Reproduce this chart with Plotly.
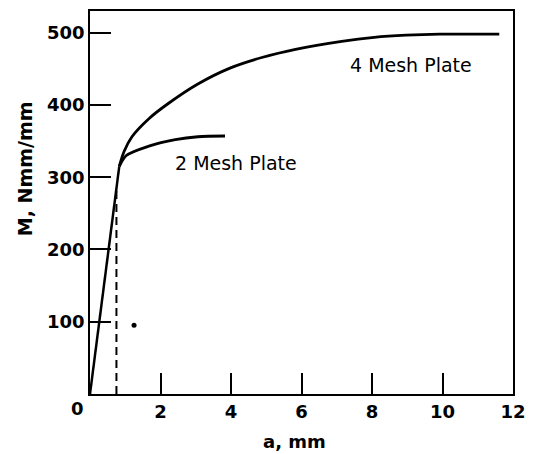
import plotly.graph_objects as go

# Data
lin_x = [0.0, 0.83]
lin_y = [0.0, 315.0]

dash_x = [0.75, 0.75]
dash_y = [0.0, 284.0]

mesh4_x = [0.83, 0.97, 1.19, 1.67, 2.22, 3.06, 3.97, 4.9, 5.83, 7.14, 8.06, 8.97, 9.92, 10.83, 11.61]
mesh4_y = [315, 336, 356, 381, 402, 429, 451, 466, 477, 488, 493.5, 496.5, 498, 498, 498]

mesh2_x = [0.83, 1.03, 1.67, 2.42, 3.06, 3.83]
mesh2_y = [315, 330, 343, 352, 356, 357]

dot_x = [1.25]
dot_y = [95]

x_ticks = [2, 4, 6, 8, 10, 12]
y_ticks = [100, 200, 300, 400, 500]

FONT = "DejaVu Sans, sans-serif"

fig = go.Figure()
fig.add_trace(go.Scatter(x=lin_x, y=lin_y, mode="lines", line=dict(color="black", width=2.5)))
fig.add_trace(go.Scatter(x=dash_x, y=dash_y, mode="lines", line=dict(color="black", width=2, dash="8px,5px")))
fig.add_trace(go.Scatter(x=mesh4_x, y=mesh4_y, mode="lines",
                         line=dict(color="black", width=2.8, shape="spline", smoothing=1.0)))
fig.add_trace(go.Scatter(x=mesh2_x, y=mesh2_y, mode="lines",
                         line=dict(color="black", width=2.8, shape="spline", smoothing=0.8)))
fig.add_trace(go.Scatter(x=dot_x, y=dot_y, mode="markers", marker=dict(color="black", size=5)))

fig.add_annotation(x=9.11, y=455, text="4 Mesh Plate", showarrow=False,
                   font=dict(family=FONT, size=19, color="black"))
fig.add_annotation(x=4.14, y=319, text="2 Mesh Plate", showarrow=False,
                   font=dict(family=FONT, size=19, color="black"))
fig.add_annotation(x=0, y=0, xref="x", yref="y", text="<b>0</b>", showarrow=False,
                   xshift=-13, yshift=-14, font=dict(family=FONT, size=18, color="black"))
# axis titles
fig.add_annotation(x=0, y=311, xref="x", yref="y", text="<b>M, Nmm/mm</b>", showarrow=False,
                   textangle=-90, xshift=-65, font=dict(family=FONT, size=19, color="black"))
fig.add_annotation(x=5.8, y=0, xref="x", yref="paper", yanchor="middle", text="<b>a, mm</b>",
                   showarrow=False, yshift=-47, font=dict(family=FONT, size=18, color="black"))

fig.update_layout(
    width=535, height=454,
    margin=dict(l=90, r=13, t=9, b=60),
    plot_bgcolor="white", paper_bgcolor="white",
    showlegend=False,
    font=dict(family=FONT, color="black"),
)
fig.update_xaxes(
    range=[0, 12], tickvals=x_ticks, ticktext=[f"<b>{v}</b>" for v in x_ticks],
    ticks="inside", ticklen=21, tickwidth=1.8, tickcolor="black",
    showline=True, linecolor="black", linewidth=1.8, mirror=True,
    showgrid=False, zeroline=False,
    tickfont=dict(family=FONT, size=18, color="black"),
)
fig.update_yaxes(
    range=[0, 530], tickvals=y_ticks, ticktext=[f"<b>{v}</b>" for v in y_ticks],
    ticks="inside", ticklen=21, tickwidth=1.8, tickcolor="black",
    showline=True, linecolor="black", linewidth=1.8, mirror=True,
    showgrid=False, zeroline=False,
    tickfont=dict(family=FONT, size=18, color="black"),
)

fig.write_html("out.html")
